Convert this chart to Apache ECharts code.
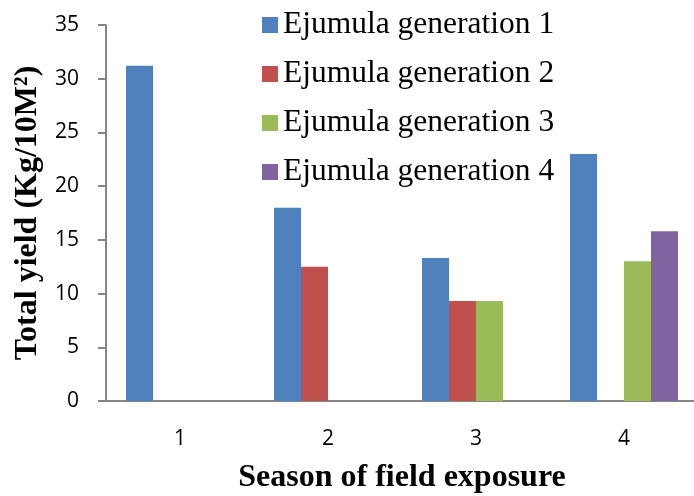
<!DOCTYPE html>
<html>
<head>
<meta charset="utf-8">
<script src="https://cdn.jsdelivr.net/npm/echarts@6/dist/echarts.min.js"></script>
<style>
  html, body { margin: 0; padding: 0; background: #fff; }
  #chart { width: 694px; height: 496px; }
</style>
</head>
<body>
<div id="chart"></div>
<script>
// Total yield per season of field exposure, one series per Ejumula generation
const seasons = ['1', '2', '3', '4'];
const generation1 = [31.2, 18.0, 13.3, 23.0];
const generation2 = [null, 12.5, 9.3, null];
const generation3 = [null, null, 9.3, 13.0];
const generation4 = [null, null, null, 15.8];
const seriesNames = [
  'Ejumula generation 1',
  'Ejumula generation 2',
  'Ejumula generation 3',
  'Ejumula generation 4'
];
const yTicks = { min: 0, max: 35, interval: 5 };

const colors = ['#4F81BD', '#C0504D', '#9BBB59', '#8064A2'];
const serif = '"Liberation Serif", "Times New Roman", serif';
const sans = '"Open Sans", "Noto Sans", sans-serif';

const chart = echarts.init(document.getElementById('chart'), null, { renderer: 'canvas' });

const seriesData = [generation1, generation2, generation3, generation4];

chart.setOption({
  animation: false,
  backgroundColor: '#ffffff',
  color: colors,
  grid: { left: 106, right: -4, top: 25, bottom: 95, containLabel: false, outerBoundsMode: 'none' },
  legend: {
    orient: 'vertical',
    left: 257,
    top: 4,
    itemWidth: 16,
    itemHeight: 16,
    itemGap: 17,
    itemTextGap: 8,
    icon: 'rect',
    textStyle: { fontFamily: serif, fontSize: 31.5, color: '#000', lineHeight: 32 },
    data: seriesNames
  },
  xAxis: {
    type: 'category',
    data: seasons,
    name: 'Season of field exposure',
    nameLocation: 'middle',
    nameGap: 61,
    nameTextStyle: { fontFamily: serif, fontSize: 32, fontWeight: 'bold', color: '#000' },
    axisLine: { lineStyle: { color: '#868686', width: 2 } },
    axisTick: { show: false },
    axisLabel: { fontFamily: sans, fontSize: 21, color: '#000', margin: 28 }
  },
  yAxis: {
    type: 'value',
    min: yTicks.min,
    max: yTicks.max,
    interval: yTicks.interval,
    name: 'Total yield (Kg/10M²)',
    nameLocation: 'middle',
    nameGap: 58,
    nameRotate: 90,
    nameTextStyle: { fontFamily: serif, fontSize: 32, fontWeight: 'bold', color: '#000' },
    axisLine: { show: true, lineStyle: { color: '#868686', width: 2 } },
    axisTick: { show: true, length: 8, lineStyle: { color: '#868686', width: 2 } },
    axisLabel: { fontFamily: sans, fontSize: 21, color: '#000', margin: 27 },
    splitLine: { show: false }
  },
  series: seriesNames.map((name, i) => ({
    name: name,
    type: 'bar',
    data: seriesData[i],
    barWidth: 27,
    barGap: '0%',
    itemStyle: { color: colors[i] }
  }))
});
</script>
</body>
</html>
